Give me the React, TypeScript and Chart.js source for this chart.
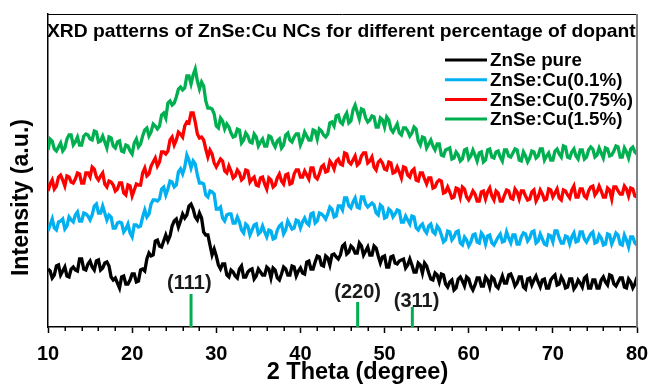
import React, { useEffect, useRef } from "react";
import { Chart, registerables } from "chart.js";

Chart.register(...registerables);

const FONT = '"Liberation Sans", Arial, Helvetica, sans-serif';

const chartTitle = "XRD patterns of ZnSe:Cu NCs for different percentage of dopant";
const xTitle = "2 Theta (degree)";
const yTitle = "Intensity (a.u.)";

const twoTheta = [
  10, 10.5, 11, 11.5, 12, 12.5, 13, 13.5, 14, 14.5, 15, 15.5, 16, 16.5, 17, 17.5, 18, 18.5, 19, 19.5,
  20, 20.5, 21, 21.5, 22, 22.5, 23, 23.5, 24, 24.5, 25, 25.5, 26, 26.5, 27, 27.5, 28, 28.5, 29, 29.5,
  30, 30.5, 31, 31.5, 32, 32.5, 33, 33.5, 34, 34.5, 35, 35.5, 36, 36.5, 37, 37.5, 38, 38.5, 39, 39.5,
  40, 40.5, 41, 41.5, 42, 42.5, 43, 43.5, 44, 44.5, 45, 45.5, 46, 46.5, 47, 47.5, 48, 48.5, 49, 49.5,
  50, 50.5, 51, 51.5, 52, 52.5, 53, 53.5, 54, 54.5, 55, 55.5, 56, 56.5, 57, 57.5, 58, 58.5, 59, 59.5,
  60, 60.5, 61, 61.5, 62, 62.5, 63, 63.5, 64, 64.5, 65, 65.5, 66, 66.5, 67, 67.5, 68, 68.5, 69, 69.5,
  70, 70.5, 71, 71.5, 72, 72.5, 73, 73.5, 74, 74.5, 75, 75.5, 76, 76.5, 77, 77.5, 78, 78.5, 79, 79.5,
  80,
];

const twoThetaMid = [
  10.25, 10.75, 11.25, 11.75, 12.25, 12.75, 13.25, 13.75, 14.25, 14.75, 15.25, 15.75, 16.25, 16.75, 17.25, 17.75, 18.25, 18.75, 19.25, 19.75,
  20.25, 20.75, 21.25, 21.75, 22.25, 22.75, 23.25, 23.75, 24.25, 24.75, 25.25, 25.75, 26.25, 26.75, 27.25, 27.75, 28.25, 28.75, 29.25, 29.75,
  30.25, 30.75, 31.25, 31.75, 32.25, 32.75, 33.25, 33.75, 34.25, 34.75, 35.25, 35.75, 36.25, 36.75, 37.25, 37.75, 38.25, 38.75, 39.25, 39.75,
  40.25, 40.75, 41.25, 41.75, 42.25, 42.75, 43.25, 43.75, 44.25, 44.75, 45.25, 45.75, 46.25, 46.75, 47.25, 47.75, 48.25, 48.75, 49.25, 49.75,
  50.25, 50.75, 51.25, 51.75, 52.25, 52.75, 53.25, 53.75, 54.25, 54.75, 55.25, 55.75, 56.25, 56.75, 57.25, 57.75, 58.25, 58.75, 59.25, 59.75,
  60.25, 60.75, 61.25, 61.75, 62.25, 62.75, 63.25, 63.75, 64.25, 64.75, 65.25, 65.75, 66.25, 66.75, 67.25, 67.75, 68.25, 68.75, 69.25, 69.75,
  70.25, 70.75, 71.25, 71.75, 72.25, 72.75, 73.25, 73.75, 74.25, 74.75, 75.25, 75.75, 76.25, 76.75, 77.25, 77.75, 78.25, 78.75, 79.25, 79.75,
];

// intensity (arbitrary units, stacked offsets as in the figure)
const znsePure = [
  58, 49, 61, 52, 60, 50, 60, 56, 68, 57, 66, 57, 67, 59, 65, 50, 49, 39, 51, 43,
  53, 45, 57, 56, 74, 72, 87, 80, 92, 91, 106, 100, 113, 112, 123, 110, 114, 95, 92, 72,
  71, 58, 63, 50, 55, 49, 61, 50, 57, 48, 58, 52, 60, 49, 57, 47, 60, 52, 61, 51,
  59, 53, 66, 58, 71, 62, 71, 62, 73, 68, 81, 73, 81, 74, 84, 72, 80, 72, 79, 64,
  71, 60, 71, 63, 67, 59, 68, 55, 64, 54, 61, 48, 54, 45, 52, 40, 47, 39, 50, 41,
  48, 37, 49, 41, 50, 40, 48, 39, 51, 44, 53, 41, 50, 40, 48, 42, 51, 40, 48, 39,
  50, 42, 50, 39, 48, 38, 47, 40, 51, 39, 47, 39, 50, 42, 51, 41, 49, 40, 48, 39,
  50,
];
const znsePureMid = [
  56, 52, 62, 56, 51, 58, 57, 68, 58, 63, 60, 66, 57, 64, 61, 47, 44, 50, 43, 47,
  53, 46, 58, 68, 71, 86, 81, 86, 86, 101, 108, 106, 109, 121, 118, 107, 109, 92, 82, 78,
  62, 63, 52, 57, 51, 58, 50, 55, 58, 51, 55, 52, 58, 59, 49, 53, 58, 52, 60, 56,
  54, 65, 58, 65, 70, 61, 69, 72, 70, 72, 83, 75, 79, 74, 81, 76, 72, 81, 71, 70,
  60, 70, 64, 66, 68, 62, 62, 55, 62, 64, 54, 47, 52, 53, 43, 45, 37, 48, 46, 50,
  41, 42, 49, 41, 47, 50, 41, 45, 44, 52, 48, 44, 50, 38, 49, 47, 45, 47, 39, 47,
  52, 43, 46, 40, 48, 41, 44, 49, 39, 47, 39, 47, 45, 52, 43, 45, 49, 39, 45, 43,
];

const znseCu01 = [
  96, 108, 97, 106, 98, 110, 105, 115, 106, 113, 107, 121, 114, 121, 107, 110, 99, 105, 95, 103,
  90, 102, 101, 117, 113, 127, 126, 138, 132, 146, 140, 155, 153, 172, 159, 163, 144, 143, 130, 135,
  118, 120, 106, 113, 104, 110, 97, 103, 92, 102, 93, 101, 90, 96, 89, 101, 93, 106, 98, 107,
  99, 109, 102, 114, 106, 113, 108, 120, 110, 121, 117, 129, 119, 129, 119, 130, 120, 124, 114, 122,
  109, 118, 110, 117, 105, 111, 103, 110, 97, 103, 94, 103, 93, 98, 85, 96, 87, 95, 84, 90,
  81, 92, 85, 94, 83, 92, 82, 90, 85, 95, 84, 92, 83, 94, 86, 95, 84, 93, 83, 92,
  85, 96, 84, 91, 83, 94, 86, 95, 85, 93, 84, 92, 82, 93, 83, 94, 83, 92, 80, 90,
  82,
];
const znseCu01Mid = [
  102, 99, 105, 108, 101, 107, 112, 106, 114, 111, 112, 123, 114, 114, 112, 99, 104, 104, 98, 94,
  102, 100, 110, 110, 123, 127, 128, 140, 138, 145, 142, 158, 160, 167, 166, 152, 144, 132, 136, 133,
  118, 109, 112, 113, 104, 105, 94, 101, 97, 103, 95, 95, 97, 88, 97, 103, 97, 102, 99, 106,
  105, 104, 113, 104, 114, 111, 113, 118, 111, 121, 129, 121, 125, 120, 130, 123, 122, 122, 112, 120,
  110, 116, 113, 116, 105, 107, 111, 99, 101, 97, 101, 95, 101, 92, 87, 95, 90, 96, 82, 87,
  85, 93, 84, 91, 91, 84, 86, 93, 86, 89, 92, 83, 90, 93, 89, 96, 86, 88, 82, 91,
  96, 89, 84, 90, 90, 85, 95, 88, 89, 95, 85, 89, 83, 92, 88, 92, 82, 87, 90, 84,
];

const znseCu075 = [
  136, 147, 141, 152, 141, 150, 144, 154, 144, 154, 150, 158, 147, 154, 140, 145, 136, 144, 134, 142,
  131, 143, 142, 159, 153, 165, 161, 175, 173, 187, 182, 195, 190, 205, 214, 205, 189, 187, 170, 173,
  160, 168, 156, 161, 149, 157, 147, 157, 145, 150, 141, 150, 138, 147, 142, 153, 143, 153, 144, 157,
  150, 156, 148, 159, 148, 160, 155, 166, 158, 168, 162, 173, 163, 171, 164, 174, 164, 170, 157, 167,
  158, 165, 154, 160, 149, 159, 150, 158, 146, 154, 143, 149, 140, 147, 134, 140, 129, 139, 130, 138,
  127, 136, 126, 135, 128, 139, 127, 134, 126, 137, 129, 138, 128, 136, 127, 135, 126, 137, 127, 138,
  130, 138, 127, 136, 129, 141, 130, 138, 129, 140, 132, 141, 130, 139, 128, 140, 133, 141, 131, 138,
  130,
];
const znseCu075Mid = [
  143, 138, 150, 147, 151, 145, 148, 153, 144, 154, 160, 150, 151, 143, 146, 142, 138, 144, 132, 141,
  137, 142, 154, 151, 161, 169, 165, 175, 176, 190, 187, 193, 201, 204, 214, 193, 190, 178, 177, 164,
  164, 166, 154, 156, 151, 154, 149, 156, 148, 142, 149, 143, 149, 140, 149, 146, 152, 143, 153, 157,
  150, 152, 159, 150, 153, 162, 156, 163, 166, 163, 174, 165, 167, 162, 171, 174, 166, 160, 165, 164,
  157, 164, 155, 155, 160, 152, 156, 147, 154, 148, 149, 139, 145, 146, 135, 135, 130, 138, 140, 130,
  131, 133, 126, 136, 135, 131, 136, 126, 132, 136, 128, 135, 136, 131, 128, 137, 130, 133, 128, 137,
  134, 129, 137, 132, 137, 130, 138, 131, 136, 141, 135, 136, 130, 137, 140, 136, 133, 138, 139, 131,
];

const znseCu15 = [
  177, 186, 176, 184, 179, 192, 182, 190, 182, 193, 188, 196, 185, 191, 179, 189, 179, 186, 175, 181,
  173, 188, 183, 197, 191, 203, 198, 212, 209, 226, 224, 238, 237, 251, 243, 258, 238, 241, 219, 218,
  201, 209, 198, 200, 190, 198, 184, 194, 185, 193, 181, 188, 181, 190, 180, 188, 182, 194, 185, 193,
  182, 195, 187, 197, 188, 196, 190, 204, 201, 212, 203, 214, 206, 222, 208, 217, 205, 211, 200, 209,
  200, 207, 195, 203, 192, 199, 191, 200, 186, 190, 179, 187, 177, 183, 171, 178, 168, 175, 166, 177,
  168, 177, 166, 175, 167, 178, 169, 176, 166, 177, 170, 178, 167, 175, 165, 176, 169, 178, 167, 174,
  167, 178, 170, 180, 169, 178, 168, 177, 170, 180, 170, 179, 169, 178, 172, 181, 170, 179, 169, 180,
  173,
];
const znseCu15Mid = [
  188, 178, 180, 176, 188, 192, 185, 182, 191, 192, 187, 195, 186, 185, 190, 181, 185, 176, 182, 176,
  184, 180, 191, 199, 195, 201, 201, 214, 224, 222, 230, 240, 239, 251, 252, 246, 245, 226, 219, 213,
  199, 206, 203, 194, 191, 197, 187, 191, 184, 190, 185, 181, 191, 184, 186, 179, 192, 187, 190, 193,
  187, 191, 187, 196, 198, 192, 193, 205, 211, 205, 210, 204, 217, 215, 218, 209, 207, 210, 200, 207,
  210, 198, 199, 194, 199, 196, 194, 198, 182, 189, 183, 181, 183, 172, 177, 179, 169, 172, 168, 178,
  171, 172, 174, 165, 177, 170, 175, 170, 177, 171, 174, 177, 166, 171, 169, 175, 171, 178, 171, 167,
  176, 173, 181, 170, 175, 171, 177, 168, 177, 178, 172, 174, 179, 171, 176, 180, 170, 175, 178, 175,
];

const seriesLabels = ["ZnSe pure", "ZnSe:Cu(0.1%)", "ZnSe:Cu(0.75%)", "ZnSe:Cu(1.5%)"];
const seriesColors = ["#000000", "#00b0f0", "#ff0000", "#00b050"];

const peakPos = [27.0, 46.8, 53.3];
const peakHeight = [33, 25, 20];
const peakLabels = ["(111)", "(220)", "(311)"];
const peakLabelX = [26.8, 46.8, 53.8];
const peakLabelY = [44, 35, 26];

const xTicks = [10, 20, 30, 40, 50, 60, 70, 80];

export default function App() {
  const ref = useRef<HTMLCanvasElement | null>(null);

  useEffect(() => {
    if (!ref.current) return;
    const mains = [znsePure, znseCu01, znseCu075, znseCu15];
    const mids = [znsePureMid, znseCu01Mid, znseCu075Mid, znseCu15Mid];

    const spectra = mains.map((vals, i) => {
      const pts = [
        ...vals.map((v, k) => ({ x: twoTheta[k], y: v })),
        ...mids[i].map((v, k) => ({ x: twoThetaMid[k], y: v })),
      ].sort((a, b) => a.x - b.x);
      return {
        label: seriesLabels[i],
        data: pts,
        borderColor: seriesColors[i],
        backgroundColor: seriesColors[i],
        borderWidth: 3.3,
        pointRadius: 0,
        tension: 0,
        fill: false,
      };
    });
    const orderedSpectra = spectra.slice().reverse();

    const peaks = peakPos.map((p, i) => ({
      label: "ref" + peakLabels[i],
      data: [
        { x: p, y: 0 },
        { x: p, y: peakHeight[i] },
      ],
      borderColor: "#00b050",
      borderWidth: 3,
      pointRadius: 0,
      fill: false,
    }));

    const decor = {
      id: "decor",
      beforeDatasetsDraw(chart: any) {
        const { ctx, scales } = chart;
        ctx.save();
        ctx.fillStyle = "#1a1a1a";
        ctx.font = `bold 20px ${FONT}`;
        ctx.textAlign = "center";
        ctx.textBaseline = "middle";
        peakLabels.forEach((t, i) => {
          ctx.fillText(t, scales.x.getPixelForValue(peakLabelX[i]), scales.y.getPixelForValue(peakLabelY[i]));
        });
        ctx.restore();
      },
      afterDraw(chart: any) {
        const { ctx, chartArea, scales } = chart;
        const { left, right, top, bottom } = chartArea;
        ctx.save();
        ctx.strokeStyle = "#000";
        ctx.lineWidth = 1;
        ctx.beginPath();
        ctx.moveTo(left, top + 0.5);
        ctx.lineTo(right, top + 0.5);
        ctx.stroke();
        ctx.strokeStyle = "#808080";
        ctx.lineWidth = 2;
        ctx.beginPath();
        ctx.moveTo(right, top);
        ctx.lineTo(right, bottom);
        ctx.stroke();
        // minor ticks
        ctx.strokeStyle = "#000";
        ctx.lineWidth = 1.5;
        for (let v = 12; v < 80; v += 2) {
          if (v % 10 === 0) continue;
          const px = Math.round(scales.x.getPixelForValue(v)) + 0.25;
          ctx.beginPath();
          ctx.moveTo(px, bottom);
          ctx.lineTo(px, bottom + 4);
          ctx.stroke();
        }
        // chart title, fitted to the frame width
        ctx.fillStyle = "#000";
        ctx.textBaseline = "middle";
        ctx.textAlign = "left";
        ctx.font = `bold 18px ${FONT}`;
        const w = ctx.measureText(chartTitle).width;
        const x0 = left - 1;
        const targetW = right - 1 - x0;
        const fs = (18 * targetW) / w;
        ctx.font = `bold ${fs.toFixed(2)}px ${FONT}`;
        ctx.fillText(chartTitle, x0, top + 18, targetW);
        // x title
        ctx.font = `bold 23.5px ${FONT}`;
        ctx.textAlign = "center";
        ctx.fillText(xTitle, (left + right) / 2 + 15, bottom + 46);
        // y title
        ctx.save();
        ctx.translate(left - 26, (top + bottom) / 2 + 27);
        ctx.rotate(-Math.PI / 2);
        ctx.font = `bold 23.2px ${FONT}`;
        ctx.textAlign = "center";
        ctx.textBaseline = "middle";
        ctx.fillText(yTitle, 0, 0);
        ctx.restore();
        // legend
        const lx0 = right - 192;
        const lx1 = right - 150;
        const tx = right - 147;
        ctx.font = `bold 18.8px ${FONT}`;
        ctx.textAlign = "left";
        ctx.textBaseline = "middle";
        seriesLabels.forEach((lab, i) => {
          const y = top + 46 + i * 19.7;
          ctx.strokeStyle = seriesColors[i];
          ctx.lineWidth = 3;
          ctx.beginPath();
          ctx.moveTo(lx0, y);
          ctx.lineTo(lx1, y);
          ctx.stroke();
          ctx.fillStyle = "#000";
          ctx.fillText(lab, tx, y + 1);
        });
        ctx.restore();
      },
    };

    const chart = new Chart(ref.current, {
      type: "line",
      data: { datasets: [...peaks, ...orderedSpectra] as any },
      options: {
        animation: false,
        responsive: true,
        maintainAspectRatio: false,
        layout: { padding: { top: 14, right: 11, left: 0, bottom: 0 } },
        plugins: {
          legend: { display: false },
          title: { display: false },
          tooltip: { enabled: false },
        },
        scales: {
          x: {
            type: "linear",
            min: 10,
            max: 80,
            afterBuildTicks: (s: any) => {
              s.ticks = xTicks.map((v) => ({ value: v }));
            },
            ticks: {
              color: "#000",
              font: { family: FONT, size: 20, weight: "bold" },
              padding: 9,
              maxRotation: 0,
              autoSkip: false,
            },
            grid: {
              drawOnChartArea: false,
              drawTicks: true,
              tickLength: 6,
              tickColor: "#000",
              tickWidth: 1.5,
            },
            border: { display: true, color: "#000", width: 1.5 },
            afterFit: (s: any) => {
              s.height = 58;
              s.paddingRight = 0;
              s.paddingLeft = 0;
            },
          },
          y: {
            type: "linear",
            min: 0,
            max: 313,
            ticks: { display: false },
            grid: { drawOnChartArea: false, drawTicks: false },
            border: { display: true, color: "#000", width: 1.5 },
            afterFit: (s: any) => {
              s.width = 48;
            },
          },
        },
      } as any,
      plugins: [decor],
    });
    return () => chart.destroy();
  }, []);

  return (
    <div style={{ position: "absolute", left: 0, top: 0, width: 648, height: 385 }}>
      <canvas ref={ref} style={{ display: "block" }} />
    </div>
  );
}
